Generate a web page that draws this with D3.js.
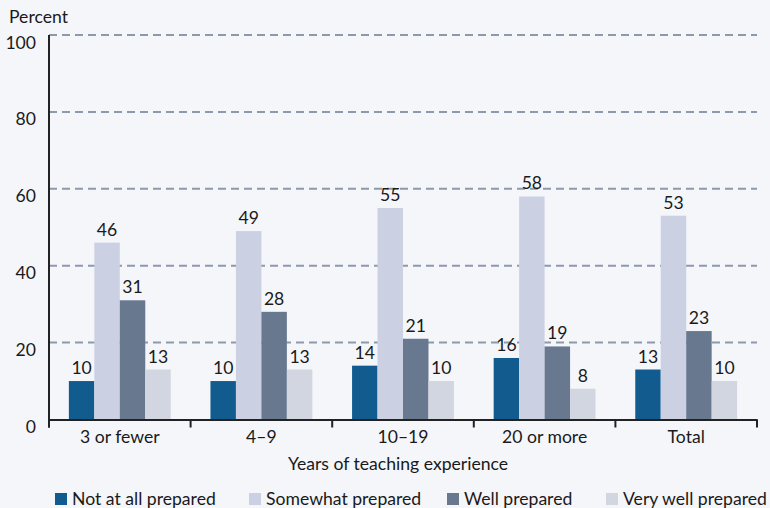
<!DOCTYPE html>
<html>
<head>
<meta charset="utf-8">
<script src="https://cdn.jsdelivr.net/npm/d3@7"></script>
<style>
  body { margin: 0; background: #f4f6fa; }
  svg text { font-family: Lato, "Open Sans", sans-serif; fill: #1a1a1a; font-size: 17.6px; }
</style>
</head>
<body>
<div id="chart"></div>
<script>
// chart data
const categories = ["3 or fewer", "4\u20139", "10\u201319", "20 or more", "Total"];
const seriesNames = ["Not at all prepared", "Somewhat prepared", "Well prepared", "Very well prepared"];
const notAtAll = [10, 10, 14, 16, 13];
const somewhat = [46, 49, 55, 58, 53];
const well = [31, 28, 21, 19, 23];
const veryWell = [13, 13, 10, 8, 10];
const yTicks = [0, 20, 40, 60, 80, 100];

const colors = ["#115b8e", "#cbd1e3", "#67788f", "#d2d6e1"];
const values = [notAtAll, somewhat, well, veryWell];

const width = 770, height = 508;
const margin = { top: 35, right: 13, bottom: 88.5, left: 49 };

const svg = d3.select("#chart").append("svg")
    .attr("width", width)
    .attr("height", height);

const x0 = d3.scaleBand()
    .domain(categories)
    .range([margin.left, width - margin.right]);

const x1 = d3.scaleBand()
    .domain(seriesNames)
    .range([0, x0.bandwidth()])
    .paddingOuter(0.78);

const y = d3.scaleLinear()
    .domain([0, 100])
    .range([height - margin.bottom, margin.top]);

// dashed gridlines
svg.append("g")
    .selectAll("line")
    .data(yTicks.filter(d => d > 0))
    .join("line")
    .attr("x1", margin.left)
    .attr("x2", width - margin.right)
    .attr("y1", d => y(d))
    .attr("y2", d => y(d))
    .attr("stroke", "#8d99ad")
    .attr("stroke-width", 2)
    .attr("stroke-dasharray", "8,5");

// y labels sit just under their gridline
svg.append("g")
    .selectAll("text")
    .data(yTicks)
    .join("text")
    .attr("x", 36)
    .attr("y", d => y(d) + 13.5)
    .attr("text-anchor", "end")
    .text(d => d);

svg.append("text")
    .attr("x", 9)
    .attr("y", 23)
    .text("Percent");

// bars
const rows = categories.map((c, i) => ({ cat: c, vals: seriesNames.map((s, j) => ({ s, j, v: values[j][i] })) }));

const groups = svg.append("g")
    .selectAll("g")
    .data(rows)
    .join("g")
    .attr("transform", d => `translate(${x0(d.cat)},0)`);

groups.selectAll("rect")
    .data(d => d.vals)
    .join("rect")
    .attr("x", d => x1(d.s))
    .attr("width", x1.bandwidth())
    .attr("y", d => y(d.v))
    .attr("height", d => y(0) - y(d.v))
    .attr("fill", d => colors[d.j]);

groups.selectAll("text")
    .data(d => d.vals)
    .join("text")
    .attr("x", d => x1(d.s) + x1.bandwidth() / 2)
    .attr("y", d => y(d.v) - 7)
    .attr("text-anchor", "middle")
    .text(d => d.v);

// axes
const xAxis = svg.append("g")
    .attr("transform", `translate(0,${y(0)})`)
    .call(d3.axisBottom(x0).tickSize(0).tickPadding(0));
xAxis.select(".domain").attr("stroke", "#222").attr("stroke-width", 2);
xAxis.selectAll("text")
    .attr("dy", null)
    .attr("y", 23.5)
    .style("font-size", "17.6px")
    .attr("fill", "#1a1a1a");

// tick marks between groups
svg.append("g")
    .selectAll("line")
    .data(d3.range(categories.length + 1))
    .join("line")
    .attr("x1", i => margin.left + i * x0.step())
    .attr("x2", i => margin.left + i * x0.step())
    .attr("y1", y(0))
    .attr("y2", y(0) + 8)
    .attr("stroke", "#222")
    .attr("stroke-width", 2);

svg.append("line")
    .attr("x1", margin.left)
    .attr("x2", margin.left)
    .attr("y1", margin.top)
    .attr("y2", y(0) + 8)
    .attr("stroke", "#222")
    .attr("stroke-width", 2);

svg.append("text")
    .attr("x", (margin.left + width - margin.right) / 2 - 5)
    .attr("y", 470)
    .attr("text-anchor", "middle")
    .text("Years of teaching experience");

// legend
const legendX = [55, 249, 447, 606];
const legend = svg.append("g")
    .selectAll("g")
    .data(seriesNames)
    .join("g")
    .attr("transform", (d, i) => `translate(${legendX[i]},493)`);

legend.append("rect")
    .attr("width", 12)
    .attr("height", 12)
    .attr("fill", (d, i) => colors[i]);

legend.append("text")
    .attr("x", 17)
    .attr("y", 11.5)
    .text(d => d);
</script>
</body>
</html>
